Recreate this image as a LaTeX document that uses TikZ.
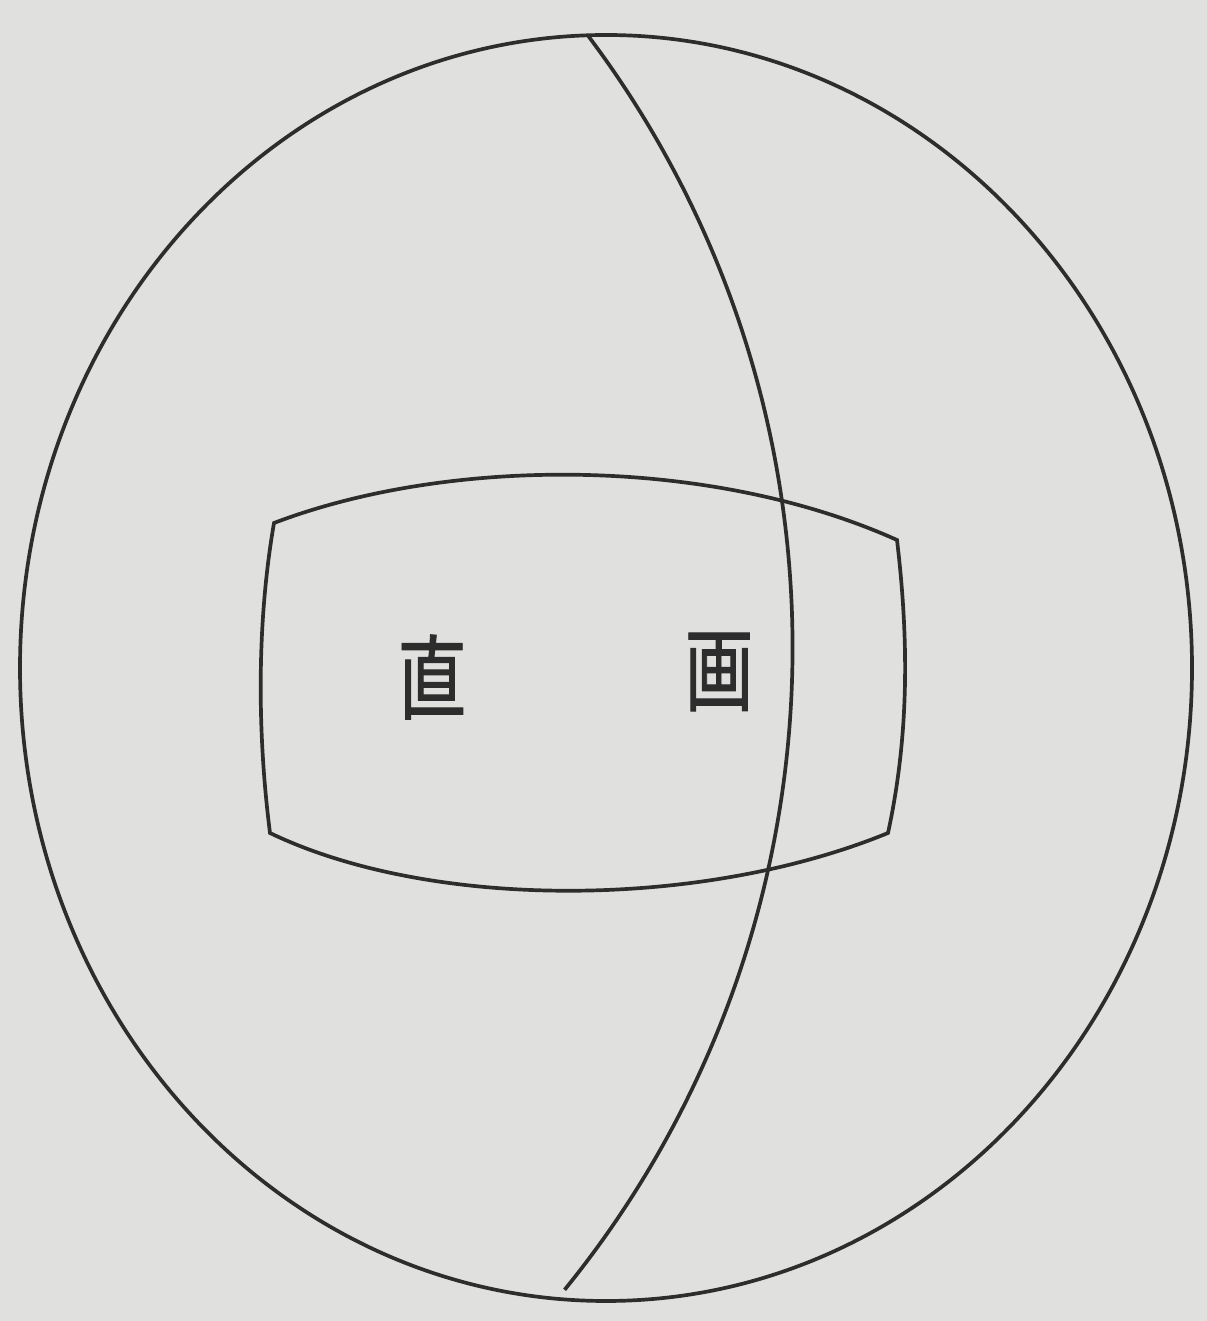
\documentclass[tikz,border=0pt]{standalone}
\usepackage{fontspec}
\newfontfamily\jpfont[FakeBold=1.2]{Noto Sans CJK JP}
\usetikzlibrary{positioning}

\definecolor{paper}{RGB}{224,224,222}
\definecolor{ink}{RGB}{45,45,45}

\begin{document}
\begin{tikzpicture}[
    x=0.01cm, y=0.01cm,
    outline/.style={draw=ink, line width=1.05pt},
    glyph/.style={text=ink, font=\jpfont\fontsize{26}{26}\selectfont, xscale=0.75, transform shape, inner sep=0pt}
]
    % Paper
    \fill[paper] (0,0) rectangle (1207,1321);
    \useasboundingbox (0,0) rectangle (1207,1321);

    % Sphere outline
    \draw[outline] (606,653) ellipse [x radius=586, y radius=633];

    % Meridian
    \draw[outline] (-225.4,673.2) ++(37.0:1018) arc [start angle=37.0, end angle=-39.1, radius=1018];

    % Curved block
    \coordinate (tl) at (274,798);
    \coordinate (tr) at (897,781);
    \coordinate (br) at (888,488);
    \coordinate (bl) at (270,488);
    \draw[outline] (tl) .. controls (450,865) and (710,865) .. (tr)
        .. controls (909,680) and (909,585) .. (br)
        .. controls (700,411) and (430,411) .. (bl)
        .. controls (257,590) and (257,700) .. (tl) -- cycle;

    % Labels
    \node[glyph] (straight) at (432,644) {直};
    \node[glyph] (drawn) at (719,649) {画};
\end{tikzpicture}
\end{document}
